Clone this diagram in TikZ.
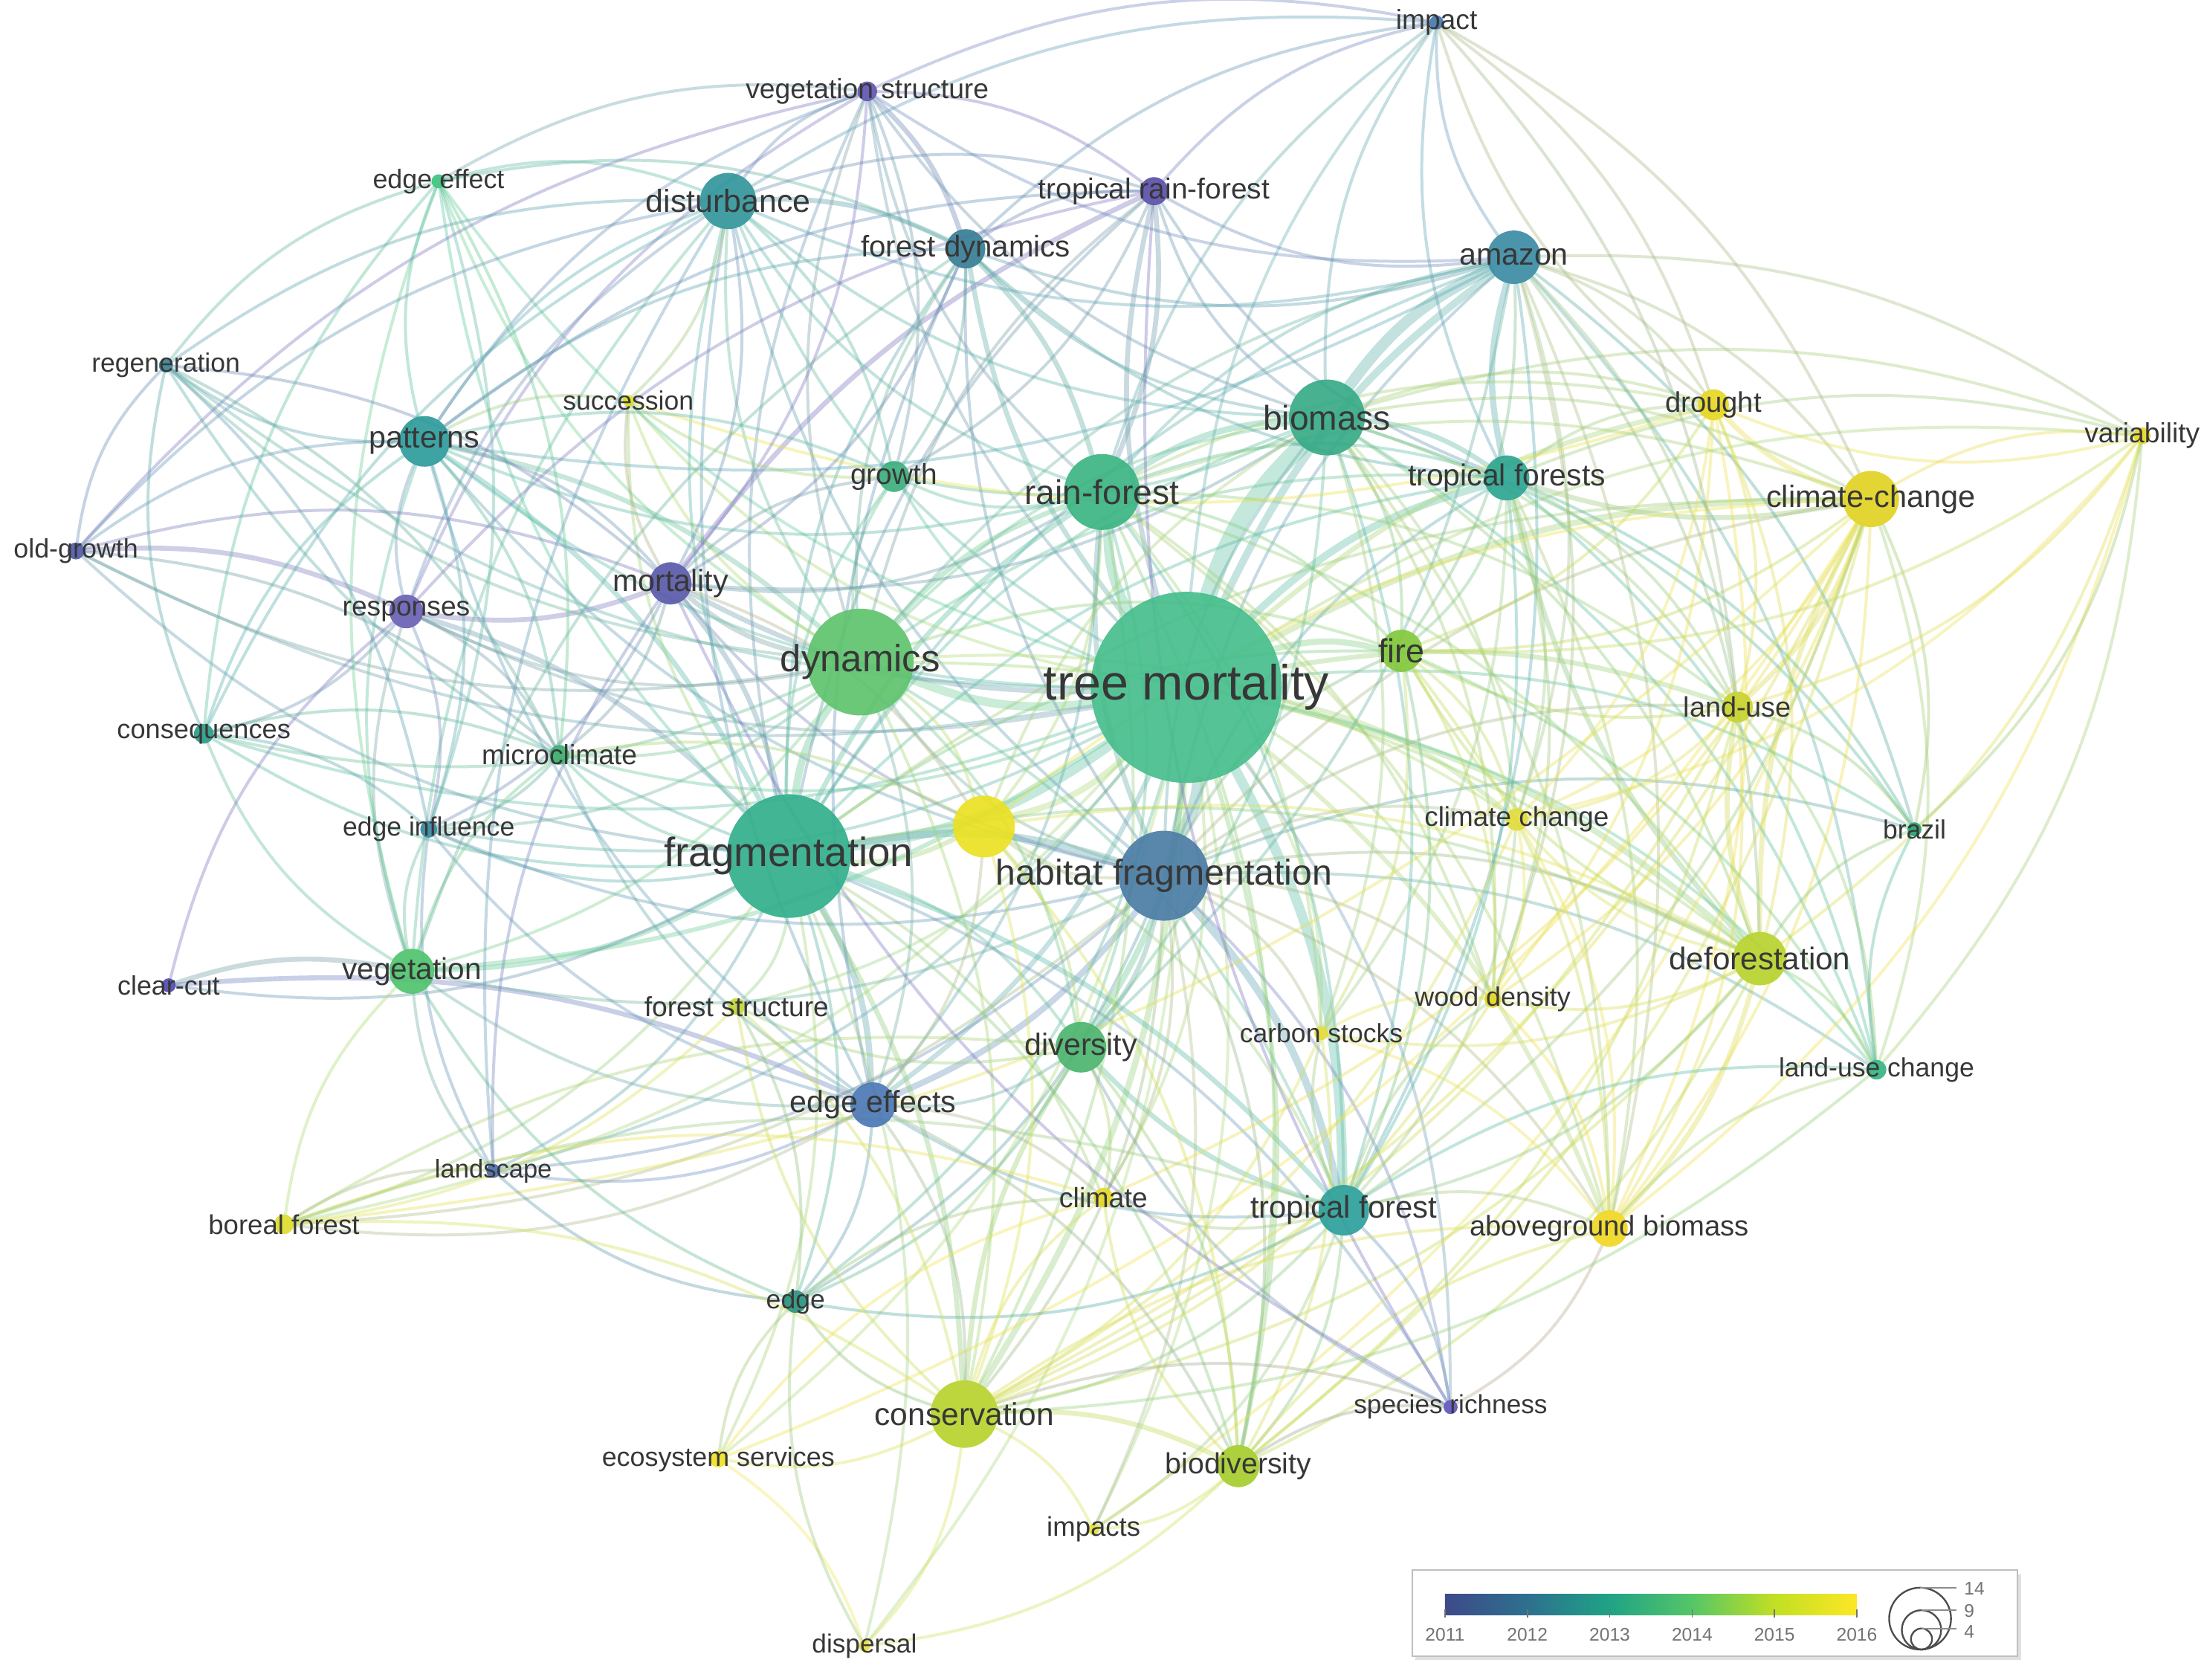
\documentclass[tikz,border=0pt]{standalone}
\usepackage{fontspec}
\setmainfont{Liberation Sans}
\pgfdeclarelayer{edgelayer}
\pgfdeclarelayer{labellayer}
\pgfsetlayers{edgelayer,main,labellayer}
\definecolor{labelgray}{RGB}{55,55,55}
\definecolor{ctm}{RGB}{70,190,140}
\definecolor{cfra}{RGB}{50,175,140}
\definecolor{chf}{RGB}{75,125,165}
\definecolor{cdyn}{RGB}{95,195,110}
\definecolor{cyel}{RGB}{235,225,35}
\definecolor{crf}{RGB}{60,180,130}
\definecolor{cbio}{RGB}{55,170,135}
\definecolor{cmor}{RGB}{90,90,170}
\definecolor{cres}{RGB}{105,95,180}
\definecolor{ctrf}{RGB}{90,80,170}
\definecolor{cvs}{RGB}{95,85,180}
\definecolor{cfd}{RGB}{55,125,150}
\definecolor{cdist}{RGB}{50,150,155}
\definecolor{camz}{RGB}{60,140,165}
\definecolor{cimp}{RGB}{70,120,175}
\definecolor{cee1}{RGB}{60,195,125}
\definecolor{creg}{RGB}{55,130,150}
\definecolor{csuc}{RGB}{225,225,30}
\definecolor{cpat}{RGB}{45,155,155}
\definecolor{cdro}{RGB}{230,215,35}
\definecolor{cvar}{RGB}{230,215,40}
\definecolor{cgro}{RGB}{60,175,125}
\definecolor{ctfs}{RGB}{45,165,145}
\definecolor{cccd}{RGB}{225,210,35}
\definecolor{cog}{RGB}{80,90,170}
\definecolor{cfire}{RGB}{130,200,60}
\definecolor{clu}{RGB}{200,210,45}
\definecolor{ccon}{RGB}{40,155,135}
\definecolor{cmic}{RGB}{60,175,110}
\definecolor{ccc}{RGB}{225,220,60}
\definecolor{cbra}{RGB}{40,160,110}
\definecolor{cei}{RGB}{55,135,160}
\definecolor{cdef}{RGB}{185,210,45}
\definecolor{ccut}{RGB}{80,75,175}
\definecolor{cveg}{RGB}{80,195,110}
\definecolor{cfs}{RGB}{195,215,60}
\definecolor{cwd}{RGB}{225,215,35}
\definecolor{ccs}{RGB}{225,220,60}
\definecolor{cdiv}{RGB}{75,180,110}
\definecolor{cluc}{RGB}{55,180,130}
\definecolor{cees}{RGB}{75,120,180}
\definecolor{clan}{RGB}{75,110,175}
\definecolor{ccli}{RGB}{230,215,40}
\definecolor{ctf}{RGB}{45,160,155}
\definecolor{cbf}{RGB}{220,220,45}
\definecolor{cagb}{RGB}{240,215,35}
\definecolor{cedge}{RGB}{40,145,125}
\definecolor{ccons}{RGB}{185,210,45}
\definecolor{csr}{RGB}{95,85,190}
\definecolor{ces}{RGB}{240,225,35}
\definecolor{cbd}{RGB}{165,205,45}
\definecolor{cimps}{RGB}{230,225,60}
\definecolor{cdis}{RGB}{230,225,60}
\pgfdeclarehorizontalshading{viridisbar}{100bp}{rgb(0bp)=(0.243,0.290,0.537); rgb(25bp)=(0.243,0.290,0.537); rgb(35bp)=(0.176,0.439,0.557); rgb(45bp)=(0.125,0.639,0.525); rgb(55bp)=(0.333,0.776,0.404); rgb(65bp)=(0.761,0.875,0.137); rgb(75bp)=(0.992,0.906,0.145); rgb(100bp)=(0.992,0.906,0.145)}
\tikzset{
  kwn/.style={circle, inner sep=0pt, draw=none, fill opacity=0.92},
  kwl/.style={inner sep=0pt, text=labelgray},
  lnk/.style={line width=1.2pt, draw opacity=0.38, line cap=round},
  legtxt/.style={inner sep=0pt, text=black!55, font=\fontsize{7.4}{8}\selectfont}
}
\newcommand\KWord[5]{%
  \node[kwn, minimum size=#3*0.04cm, fill=c#1] (#1) at (#2) {};
  \begin{pgfonlayer}{labellayer}
  \node[kwl, font=\fontsize{#4}{#4}\selectfont] (#1l) at (#1.center) {#5};
  \end{pgfonlayer}}
\begin{document}
\begin{tikzpicture}[x=0.02cm,y=-0.02cm]
\useasboundingbox (0,0) rectangle (1568,1195);
% keywords
\KWord{imp}{1022,16}{5}{11.2}{impact}
\KWord{vs}{617,65}{7}{11.2}{vegetation structure}
\KWord{ee1}{312,129}{5}{10.8}{edge effect}
\KWord{dist}{518,143}{20}{12.9}{disturbance}
\KWord{trf}{821,136}{10}{11.7}{tropical rain-forest}
\KWord{fd}{687,177}{14}{12.1}{forest dynamics}
\KWord{amz}{1077,183}{19}{12.4}{amazon}
\KWord{reg}{118,260}{5}{10.7}{regeneration}
\KWord{suc}{447,285}{4}{10.7}{succession}
\KWord{pat}{302,314}{18}{12.4}{patterns}
\KWord{bio}{944,297}{27}{13.9}{biomass}
\KWord{dro}{1219,288}{11}{11.5}{drought}
\KWord{var}{1524,310}{6}{11.2}{variability}
\KWord{gro}{636,339}{11}{11.7}{growth}
\KWord{rf}{784,350}{27}{13.9}{rain-forest}
\KWord{tfs}{1072,340}{16}{12.3}{tropical forests}
\KWord{ccd}{1331,355}{20}{12.5}{climate-change}
\KWord{og}{54,392}{6}{10.8}{old-growth}
\KWord{mor}{477,415}{15}{12.4}{mortality}
\KWord{res}{289,435}{12}{11.2}{responses}
\KWord{dyn}{612,471}{38}{15.3}{dynamics}
\KWord{tm}{844,489}{68}{20}{tree mortality}
\KWord{fire}{997,463}{15}{13.5}{fire}
\KWord{lu}{1236,503}{11}{11.4}{land-use}
\KWord{con}{145,522}{7}{10.9}{consequences}
\KWord{mic}{398,537}{7}{11.2}{microclimate}
\KWord{cc}{1079,583}{8}{11.1}{climate change}
\KWord{bra}{1362,590}{5}{10.7}{brazil}
\KWord{ei}{305,590}{6}{10.7}{edge influence}
\KWord{fra}{561,609}{44}{16.5}{fragmentation}
\node[kwn, minimum size=22*0.04cm, fill=cyel] (yel) at (700,588) {};
\KWord{hf}{828,623}{32}{14.5}{habitat fragmentation}
\KWord{def}{1252,682}{19}{12.7}{deforestation}
\KWord{cut}{120,701}{5}{10.8}{clear-cut}
\KWord{veg}{293,691}{16}{12.2}{vegetation}
\KWord{fs}{524,716}{6}{11.2}{forest structure}
\KWord{wd}{1062,711}{6}{10.8}{wood density}
\KWord{cs}{940,735}{5}{10.7}{carbon stocks}
\KWord{div}{769,745}{18}{12.4}{diversity}
\KWord{luc}{1335,761}{7}{10.7}{land-use change}
\KWord{ees}{621,786}{16}{12.4}{edge effects}
\KWord{lan}{351,833}{5}{10.4}{landscape}
\KWord{cli}{785,852}{7}{11.3}{climate}
\KWord{tf}{956,861}{18}{12.6}{tropical forest}
\KWord{bf}{202,871}{7}{11}{boreal forest}
\KWord{agb}{1145,874}{13}{11.5}{aboveground biomass}
\KWord{edge}{566,926}{8}{10.7}{edge}
\KWord{cons}{686,1006}{24}{12.8}{conservation}
\KWord{sr}{1032,1001}{5}{10.6}{species richness}
\KWord{es}{511,1038}{6}{10.8}{ecosystem services}
\KWord{bd}{881,1043}{15}{11.8}{biodiversity}
\KWord{imps}{778,1088}{4}{11}{impacts}
\KWord{dis}{615,1171}{4}{10.6}{dispersal}
% links
\begin{pgfonlayer}{edgelayer}
\foreach \a/\b/\w in {tm/bio/7,tm/hf/5,tm/tf/4,tm/fra/4,tm/rf/4,tm/dyn/3.5,tm/amz/3,tm/tfs/3,bio/amz/4.5,fra/hf/3,hf/tf/3,fra/dyn/3,tm/def/2.5,tm/fire/2.5,tm/ccd/2.5,tm/div/2.5,tm/cons/2.5,fra/ees/2.5,hf/ees/2.5,tm/ees/2,rf/bio/2.5,tm/dro/2,tm/lu/2,hf/div/2,fra/veg/2,mor/res/2,og/res/2,res/fra/2,tfs/amz/2.5,mor/fra/2,dyn/rf/2,fra/rf/2,fra/tf/2,fra/cons/2,cons/div/2,ccd/dro/2,def/ccd/2,def/lu/2,tf/div/2,bio/tfs/2,dist/fd/2,fd/rf/2,trf/rf/2,vs/fd/2,cut/veg/2,cut/ees/2,pat/fra/2,pat/dyn/2,tm/mor/2,hf/rf/2,ccd/tfs/2,ccd/lu/2,def/tfs/2,def/agb/2,cons/bd/2,tm/yel/2.5,yel/fra/2,dyn/mor/2,tm/trf/2,tm/fd/2,mor/trf/2,tm/veg/1.8,tm/agb/1.8,tm/bd/1.8,tm/cc/1.8}
  \draw[lnk, line width=\w pt, draw=c\a!50!c\b!80!white] (\a) to[bend left=14] (\b);
\foreach \a/\b in {tm/imp,tm/vs,tm/dist,tm/var,tm/gro,tm/res,tm/con,tm/mic,tm/bra,tm/ei,tm/fs,tm/wd,tm/cs,tm/luc,tm/lan,tm/cli,tm/bf,tm/edge,tm/sr,tm/es,tm/imps,tm/dis,tm/pat,tm/suc,tm/og,tm/ee1,tm/reg,
fra/dist,fra/bio,fra/amz,fra/tfs,fra/ei,fra/mic,fra/con,fra/edge,fra/lan,fra/div,fra/fd,fra/trf,fra/vs,fra/ee1,fra/reg,fra/og,fra/cut,fra/fs,fra/fire,fra/def,fra/cli,fra/bd,fra/es,fra/bf,fra/sr,fra/gro,fra/suc,fra/ccd,fra/dis,
hf/dist,hf/fd,hf/amz,hf/bio,hf/dyn,hf/cons,hf/bd,hf/def,hf/lu,hf/ccd,hf/fire,hf/tfs,hf/agb,hf/sr,hf/imps,hf/cs,hf/wd,hf/cli,hf/edge,hf/luc,hf/bra,hf/cc,hf/yel,hf/pat,hf/mor,hf/veg,hf/ei,hf/bf,hf/lan,
dyn/dist,dyn/res,dyn/fd,dyn/trf,dyn/vs,dyn/bio,dyn/amz,dyn/tfs,dyn/gro,dyn/veg,dyn/ee1,dyn/reg,dyn/og,dyn/con,dyn/mic,dyn/ei,dyn/div,dyn/ees,dyn/tf,dyn/fire,dyn/cc,dyn/def,dyn/cons,dyn/suc,dyn/yel,
rf/dist,rf/vs,rf/amz,rf/tfs,rf/gro,rf/mor,rf/pat,rf/ccd,rf/dro,rf/fire,rf/lu,rf/def,rf/div,rf/tf,rf/ees,rf/cons,rf/bd,rf/cs,rf/agb,rf/wd,rf/imp,rf/yel,
bio/dro,bio/ccd,bio/var,bio/fire,bio/lu,bio/cc,bio/def,bio/agb,bio/wd,bio/cs,bio/tf,bio/luc,bio/bra,bio/fd,bio/trf,bio/dist,bio/div,bio/imp,bio/vs,bio/gro,bio/mor,
amz/imp,amz/trf,amz/vs,amz/fd,amz/dist,amz/dro,amz/ccd,amz/fire,amz/lu,amz/def,amz/bra,amz/luc,amz/agb,amz/cc,amz/var,amz/wd,amz/tf,amz/pat,amz/div,
tfs/dro,tfs/var,tfs/fire,tfs/lu,tfs/cc,tfs/bra,tfs/luc,tfs/agb,tfs/wd,tfs/cs,tfs/tf,tfs/imp,tfs/trf,tfs/fd,
ccd/var,ccd/cc,ccd/bra,ccd/agb,ccd/luc,ccd/fire,ccd/wd,ccd/cli,ccd/cons,ccd/bd,ccd/imps,ccd/tf,ccd/es,ccd/bf,
var/dro,var/lu,var/def,var/agb,var/fire,var/cc,var/luc,var/bra,
dro/lu,dro/def,dro/agb,dro/fire,dro/cc,dro/wd,dro/suc,dro/imp,
lu/bra,lu/luc,lu/agb,lu/cc,lu/fire,lu/cons,lu/bd,
def/bra,def/luc,def/cc,def/fire,def/cons,def/bd,def/tf,def/wd,def/cs,
fire/cc,fire/agb,fire/wd,fire/cs,fire/tf,fire/luc,
cc/agb,cc/wd,cc/tf,cc/cons,
tf/cons,tf/bd,tf/sr,tf/cli,tf/ees,tf/agb,tf/edge,tf/wd,tf/cs,tf/imps,tf/luc,
div/ees,div/bd,div/cli,div/edge,div/fs,
ees/edge,ees/cons,ees/lan,ees/bf,ees/veg,ees/ei,ees/mic,ees/cli,ees/bd,ees/dist,ees/fd,ees/pat,
cons/edge,cons/es,cons/dis,cons/imps,cons/cli,cons/sr,cons/agb,cons/fs,
bd/sr,bd/imps,bd/cli,bd/dis,bd/agb,
sr/trf,sr/mor,sr/div,
es/edge,es/dis,es/cli,
dis/edge,
edge/lan,edge/veg,edge/cli,
bf/lan,bf/veg,bf/cons,bf/cli,bf/div,bf/tf,
lan/veg,lan/ei,lan/mor,lan/dist,
veg/res,veg/ei,veg/con,veg/ee1,veg/pat,veg/mic,veg/dist,veg/fd,
cut/res,
res/ei,res/pat,res/con,res/mic,res/vs,res/trf,res/dist,
og/reg,og/pat,og/mor,og/mic,og/dist,og/vs,
con/pat,con/ei,con/mic,con/reg,con/ee1,con/dist,
pat/ee1,pat/dist,pat/reg,pat/mor,pat/mic,pat/ei,pat/suc,pat/gro,pat/fd,pat/vs,pat/trf,
reg/ee1,reg/dist,reg/mor,reg/mic,reg/ei,
ee1/dist,ee1/fd,ee1/vs,ee1/mic,ee1/ei,
dist/vs,dist/trf,dist/mor,dist/gro,dist/suc,dist/imp,
vs/trf,vs/mor,vs/gro,vs/imp,
fd/trf,fd/mor,fd/gro,fd/imp,
trf/imp,trf/gro,
mor/gro,mor/suc,mor/mic,mor/ei,mor/yel,
mic/ei,mic/yel,
gro/suc,
yel/cons,yel/div,yel/ees,yel/bio,yel/ccd,yel/def,yel/bd,yel/tf,
imp/dro,imp/ccd,imp/lu,
fs/edge,fs/bf,fs/cons,
cs/wd,cs/agb,cs/cons,cs/bd,
wd/agb,wd/cons,
agb/luc,agb/sr,
luc/bra,luc/cons}
  \draw[lnk, draw=c\a!50!c\b!80!white] (\a) to[bend left=18] (\b);
\end{pgfonlayer}
% legend
\fill[black!12] (1007,1120) rectangle (1438,1181);
\draw[black!25, fill=white, line width=0.6pt] (1005,1117) rectangle (1435,1178);
\shade[shading=viridisbar] (1028,1134) rectangle (1321,1149);
\foreach \i/\y in {0/2011,1/2012,2/2013,3/2014,4/2015,5/2016}{
  \draw[black!55, line width=0.5pt] (1028+\i*58.6,1145) -- (1028+\i*58.6,1151);
  \node[legtxt] (yr\y) at (1028+\i*58.6,1163) {\y};
}
\draw[black!70, line width=0.7pt] (1366,1151.5) circle[radius=22];
\draw[black!70, line width=0.7pt] (1367,1159.5) circle[radius=14];
\draw[black!70, line width=0.7pt] (1367,1166) circle[radius=7.5];
\draw[black!45, line width=0.5pt] (1366,1129.5) -- (1392,1129.5);
\draw[black!45, line width=0.5pt] (1367,1145.5) -- (1392,1145.5);
\draw[black!45, line width=0.5pt] (1367,1158.5) -- (1392,1158.5);
\node[legtxt, anchor=west] (s14) at (1397,1130) {14};
\node[legtxt, anchor=west] (s9) at (1397,1146) {9};
\node[legtxt, anchor=west] (s4) at (1397,1161) {4};
\end{tikzpicture}
\end{document}
